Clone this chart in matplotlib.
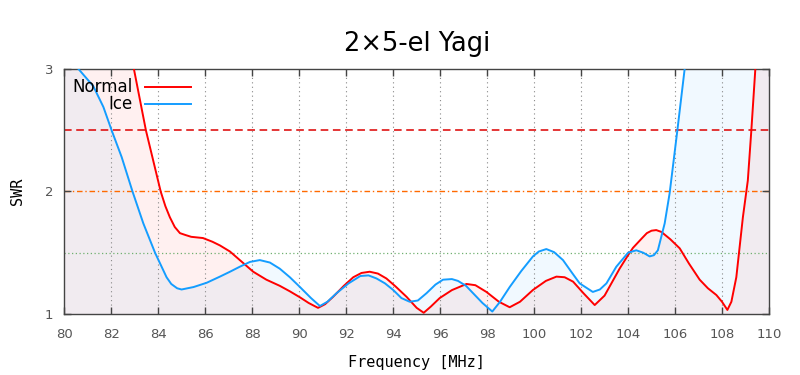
import matplotlib
matplotlib.use('Agg')
import matplotlib.pyplot as plt
import numpy as np

# SWR curves (values above 3 are off the chart)
normal_f = [80, 81, 82, 82.96, 83.47, 84.1, 84.3, 84.49, 84.7, 84.92, 85.15, 85.4,
	85.9, 86.3, 86.62, 87.05, 87.47, 88.04, 88.6, 89.17, 89.6, 90.03, 90.4, 90.8,
	91.1, 91.44, 91.9, 92.3, 92.65, 93.0, 93.35, 93.71, 94.1, 94.57, 95.0, 95.3,
	95.6, 95.98, 96.5, 97.12, 97.5, 97.97, 98.5, 98.96, 99.4, 99.95, 100.5,
	100.95, 101.3, 101.66, 102.1, 102.58, 103.0, 103.64, 104.0, 104.21, 104.6,
	104.8, 105.0, 105.2, 105.42, 105.8, 106.2, 106.6, 107.05, 107.4, 107.76,
	108.0, 108.23, 108.4, 108.61, 108.89, 109.1, 109.25, 109.42, 110]
normal_swr = [9.0, 6.5, 4.8, 3.0, 2.5, 2.0, 1.88, 1.79, 1.71, 1.66, 1.645, 1.63,
	1.62, 1.59, 1.56, 1.51, 1.44, 1.345, 1.28, 1.23, 1.185, 1.136, 1.09, 1.05,
	1.08, 1.14, 1.23, 1.30, 1.335, 1.345, 1.33, 1.29, 1.225, 1.14, 1.05, 1.01,
	1.06, 1.13, 1.195, 1.245, 1.235, 1.18, 1.10, 1.055, 1.10, 1.196, 1.27,
	1.305, 1.30, 1.264, 1.17, 1.073, 1.15, 1.37, 1.48, 1.54, 1.62,
	1.66, 1.68, 1.685, 1.67, 1.61, 1.536, 1.41, 1.28, 1.21, 1.155,
	1.10, 1.033, 1.10, 1.30, 1.79, 2.09, 2.5, 3.0, 5.5]

ice_f = [80, 80.6, 81.23, 81.66, 82.01, 82.44, 82.9, 83.36, 83.86, 84.35, 84.55,
	84.8, 84.99, 85.5, 86.06, 86.62, 87.05, 87.47, 87.9, 88.32, 88.75, 89.17,
	89.6, 90.03, 90.5, 90.88, 91.2, 91.59, 92.1, 92.6, 92.95, 93.29, 93.65,
	94.0, 94.35, 94.7, 95.05, 95.42, 95.8, 96.12, 96.5, 96.76, 97.1, 97.4,
	97.8, 98.22, 98.55, 98.96, 99.45, 99.95, 100.2, 100.52, 100.85, 101.23,
	101.6, 101.94, 102.5, 102.8, 103.08, 103.5, 104.0, 104.35, 104.65, 104.92,
	105.1, 105.27, 105.56, 105.77, 106.1, 106.41, 106.8, 110]
ice_swr = [3.2, 3.0, 2.86, 2.69, 2.5, 2.28, 2.0, 1.74, 1.50, 1.30, 1.245,
	1.21, 1.20, 1.22, 1.255, 1.305, 1.345, 1.386, 1.425, 1.44, 1.42, 1.37,
	1.30, 1.22, 1.13, 1.065, 1.10, 1.17, 1.25, 1.31, 1.315, 1.29, 1.25,
	1.196, 1.13, 1.10, 1.11, 1.17, 1.24, 1.28, 1.285, 1.27, 1.23, 1.17,
	1.09, 1.02, 1.10, 1.22, 1.35, 1.47, 1.51, 1.53, 1.505, 1.44,
	1.34, 1.25, 1.18, 1.20, 1.25, 1.386, 1.50, 1.52, 1.50, 1.47,
	1.48, 1.52, 1.74, 1.985, 2.5, 3.0, 3.8, 9.0]

xticks = list(range(80, 111, 2))
yticks = [1, 2, 3]

red = '#ff0000'
blue = '#149dff'

fig = plt.figure(figsize=(8, 3.75), dpi=100)
ax = fig.add_axes([0.0805, 0.1627, 0.8807, 0.6533])

ax.fill_between(normal_f, 1, normal_swr, color=red, alpha=0.06, lw=0)
ax.fill_between(ice_f, 1, ice_swr, color=blue, alpha=0.06, lw=0)

for x in xticks[1:-1]:
	ax.axvline(x, color='#888888', lw=0.8, ls=(0, (1, 3)), zorder=1)
ax.axhline(1.5, color='#70b070', lw=0.9, ls=(0, (1, 2)), zorder=1)
ax.axhline(2.0, color='#ff6a00', lw=1.0, ls=(0, (4, 2, 1, 2)), zorder=1)
ax.axhline(2.5, color='#dd0000', lw=1.1, ls=(0, (5, 3)), zorder=1)

ax.plot(normal_f, normal_swr, color=red, lw=1.4, zorder=3)
ax.plot(ice_f, ice_swr, color=blue, lw=1.4, zorder=3)

ax.set_xlim(80, 110)
ax.set_ylim(1, 3)
ax.set_xticks(xticks)
ax.set_yticks(yticks)
ax.tick_params(direction='in', top=True, right=True, length=5, width=1,
	color='#444444', labelcolor='#555555', labelsize=9.5, pad=10)
ax.tick_params(axis='y', pad=8)
for s in ax.spines.values():
	s.set_color('#444444')
	s.set_linewidth(1.0)

ax.set_xlabel('Frequency [MHz]', family='DejaVu Sans Mono', fontsize=11, labelpad=10)
ax.set_ylabel('SWR', family='DejaVu Sans Mono', fontsize=11, labelpad=14)
fig.text(0.521, 0.883, '2×5-el Yagi', ha='center', va='center', fontsize=18.5,
	family='DejaVu Sans')

# legend, gnuplot style: right aligned text, sample line after it
ax.text(0.0974, 0.927, 'Normal', ha='right', va='center', fontsize=12,
	transform=ax.transAxes)
ax.text(0.0974, 0.857, 'Ice', ha='right', va='center', fontsize=12,
	transform=ax.transAxes)
ax.plot([0.114, 0.180], [0.927, 0.927], color=red, lw=1.4, transform=ax.transAxes)
ax.plot([0.114, 0.180], [0.857, 0.857], color=blue, lw=1.4, transform=ax.transAxes)

fig.savefig('out.png', dpi=100)
